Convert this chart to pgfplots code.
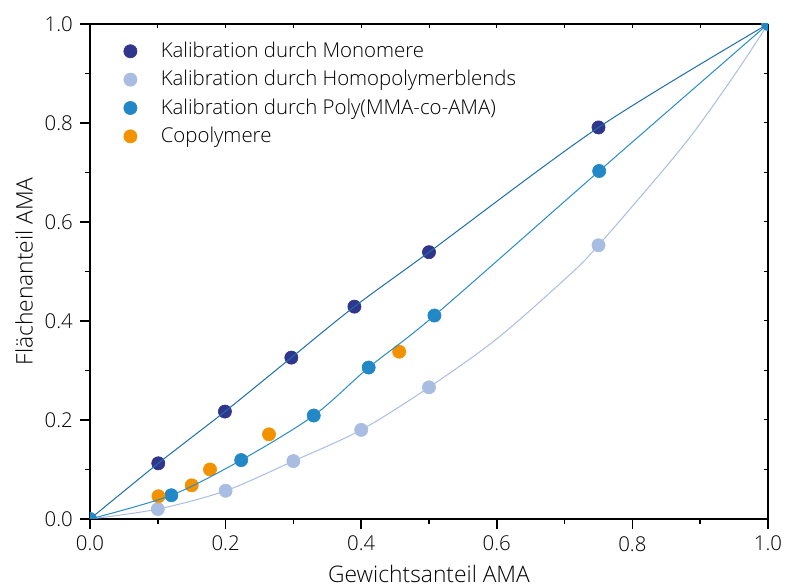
\documentclass[border=0pt]{standalone}
\usepackage{pgfplots}
\pgfplotsset{compat=1.18}
\usepackage{fontspec}
\setmainfont{Open Sans}[UprightFont=* Light]
\definecolor{cmono}{RGB}{48,54,140}
\definecolor{chomo}{RGB}{169,189,227}
\definecolor{cpoly}{RGB}{33,135,198}
\definecolor{ccopo}{RGB}{243,146,0}
\definecolor{lmono}{RGB}{30,110,168}
\definecolor{lpoly}{RGB}{40,140,200}
\newcommand\labfont{\fontsize{11.4pt}{13pt}\selectfont}
\begin{document}
\fontsize{10.2pt}{12pt}\selectfont
\begin{tikzpicture}
\useasboundingbox (-45pt,-34pt) rectangle (348.5pt,259.5pt);
% frame top/right with small inner ticks
\begin{axis}[
  at={(0,0)}, anchor=south west,
  scale only axis, width=339pt, height=247.5pt,
  xmin=0, xmax=1, ymin=0, ymax=1,
  axis x line*=top, axis y line*=right,
  axis line style={-, line width=0.9pt},
  xtick={0,0.1,...,1}, ytick={0,0.1,...,1},
  xticklabels={}, yticklabels={},
  tick align=inside, major tick length=2pt,
  tick style={black, line width=0.5pt},
]
\end{axis}
\begin{axis}[
  at={(0,0)}, anchor=south west,
  scale only axis, width=339pt, height=247.5pt,
  xmin=0, xmax=1, ymin=0, ymax=1,
  axis x line*=bottom, axis y line*=left,
  axis line style={-, line width=0.9pt},
  xtick={0,0.2,...,1}, ytick={0,0.2,...,1},
  minor xtick={0.1,0.3,...,0.9}, minor ytick={0.1,0.3,...,0.9},
  tick align=outside, major tick length=5pt, minor tick length=2.5pt,
  tick style={black, line width=0.8pt},
  /pgf/number format/.cd, fixed, fixed zerofill, precision=1, assume math mode=true,
  /pgfplots/.cd,
  xlabel={\labfont Gewichtsanteil AMA}, ylabel={\labfont Flächenanteil AMA},
  every axis x label/.style={at={(axis description cs:0.5,0)}, yshift=-27.5pt, anchor=center},
  every axis y label/.style={at={(axis description cs:0,0.5)}, xshift=-33pt, rotate=90, anchor=center},
  clip mode=individual,
  legend cell align=left,
  legend style={draw=none, fill=none, inner sep=0pt, outer sep=0pt,
    at={(axis description cs:0,1)}, anchor=north west, xshift=16.5pt, yshift=-7pt,
    row sep=0.9pt, font=\fontsize{10.2pt}{12pt}\selectfont},
  legend image code/.code={\draw[#1] plot coordinates {(0pt,0pt)}; \path (-3.5pt,0pt) (13pt,0pt);},
]
% data points
\addplot[only marks, mark=*, mark size=3.3pt, color=cmono, mark options={fill=cmono, line width=0.3pt}]
  coordinates {(0.1007,0.1125) (0.199,0.217) (0.297,0.326) (0.39,0.429) (0.5,0.539) (0.75,0.791)};
\addlegendentry{Kalibration durch Monomere}
\addplot[only marks, mark=*, mark size=3.3pt, color=chomo, mark options={fill=chomo, line width=0.3pt}]
  coordinates {(0.1,0.020) (0.2,0.057) (0.3,0.117) (0.4,0.180) (0.5,0.266) (0.75,0.553)};
\addlegendentry{Kalibration durch Homopolymerblends}
\addplot[only marks, mark=*, mark size=3.3pt, color=cpoly, mark options={fill=cpoly, line width=0.3pt}]
  coordinates {(0.12,0.048) (0.223,0.119) (0.33,0.209) (0.411,0.306) (0.508,0.411) (0.751,0.703)};
\addlegendentry{Kalibration durch Poly(MMA-co-AMA)}
\addplot[only marks, mark=*, mark size=3.3pt, color=ccopo, mark options={fill=ccopo, line width=0.3pt}]
  coordinates {(0.101,0.046) (0.15,0.068) (0.177,0.100) (0.264,0.171) (0.456,0.338)};
\addlegendentry{Copolymere}
% fit lines
\addplot[lmono, line width=0.5pt, smooth]
  coordinates {(0,0) (0.1007,0.1125) (0.199,0.217) (0.297,0.326) (0.39,0.429) (0.5,0.539) (0.75,0.791) (1,1)};
\addplot[chomo, line width=0.5pt, smooth]
  coordinates {(0,0) (0.1,0.020) (0.2,0.057) (0.3,0.117) (0.4,0.180) (0.5,0.266) (0.6,0.364) (0.7,0.484) (0.75,0.553) (0.875,0.754) (0.95,0.896) (1,1)};
\addplot[lpoly, line width=0.5pt, smooth]
  coordinates {(0,0) (0.12,0.048) (0.223,0.119) (0.33,0.209) (0.411,0.306) (0.508,0.411) (0.751,0.703) (1,1)};
% end points, clipped at the frame
\addplot[only marks, mark=*, mark size=3.3pt, color=cpoly, mark options={fill=cpoly, line width=0.3pt}, clip marker paths=true]
  coordinates {(0,0) (1,1)};
\end{axis}
\end{tikzpicture}
\end{document}
